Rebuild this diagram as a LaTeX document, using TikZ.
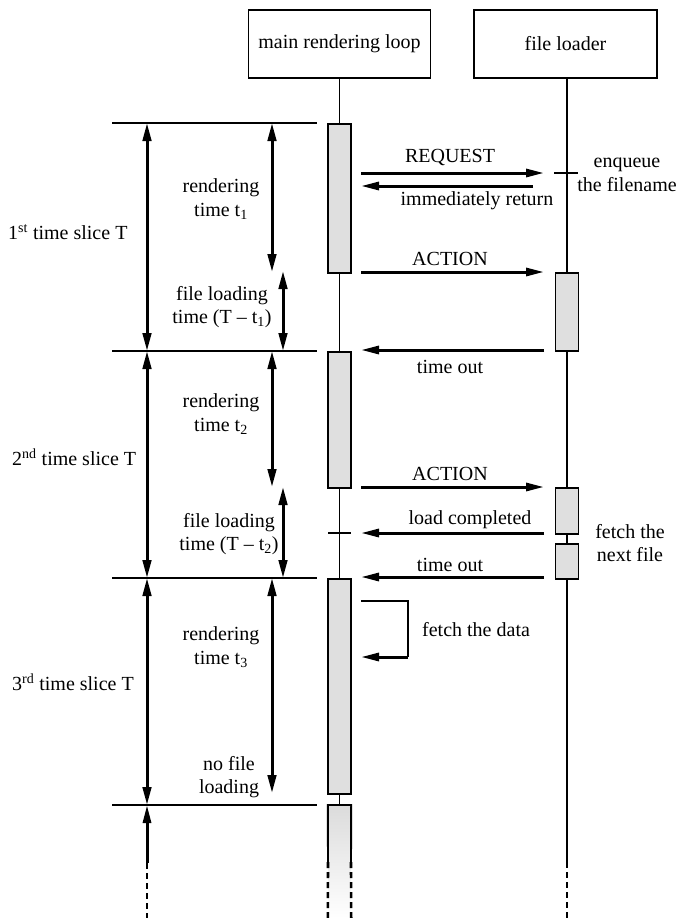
\documentclass[tikz,border=0pt]{standalone}
\usepackage{fontspec}
\setmainfont{Liberation Serif}
\usetikzlibrary{arrows.meta}
\tikzset{
  txt/.style={font=\fontsize{20}{23.5}\selectfont, inner sep=0pt, align=center},
  actor/.style={draw, line width=1.9pt, minimum width=#1, minimum height=68pt,
    inner sep=0pt, font=\fontsize{20}{24}\selectfont},
  life/.style={line width=1.9pt},
  bar/.style={draw, line width=1.9pt, fill=gray!25, minimum width=23pt,
    minimum height=#1, inner sep=0pt, anchor=north},
  msg/.style={line width=3pt, -{Triangle[length=18pt,width=8pt]}},
  span/.style={line width=3pt,
    {Triangle[length=18pt,width=8.5pt]}-{Triangle[length=18pt,width=8.5pt]}},
  slicerule/.style={line width=1.9pt},
  tail/.style={line width=2.6pt, dash pattern=on 6pt off 4pt},
}
\begin{document}
\begin{tikzpicture}[x=1pt,y=-1pt]
\useasboundingbox (0,0) rectangle (682,918);

% participants
\node[actor=182pt] (main) at (339.5,44) {main rendering loop};
\node[actor=183pt] (loader) at (565.5,44) {file loader};

% activation bars of the rendering loop
\node[bar=149pt] (b1) at (339.5,123) {};
\node[bar=136pt] (b2) at (339.5,351) {};
\node[bar=215pt] (b3) at (339.5,578) {};
\node[anchor=north, minimum width=23pt, minimum height=113pt, inner sep=0pt,
      top color=gray!28, bottom color=white] (b4) at (339.5,805) {};

% activation bars of the file loader
\node[bar=78pt] (f1) at (567,272) {};
\node[bar=46pt] (f2) at (567,487) {};
\node[bar=35pt] (f3) at (567,543) {};

% lifelines
\draw[life] (main.south) -- (b1.north);
\draw[life] (b1.south) -- (b2.north);
\draw[life] (b2.south) -- (b3.north);
\draw[life] (b3.south) -- (b4.north);
\draw[life] (loader.south -| f1.north) -- (f1.north);
\draw[life] (f1.south) -- (f2.north);
\draw[life] (f2.south) -- (f3.north);
\coordinate (fcut) at (567,862);
\coordinate (fend) at (567,918);
\draw[life] (f3.south) -- (fcut);
\draw[tail] (fcut) -- (fend);

% open-ended last bar
\coordinate (b4lc) at (328,862);
\coordinate (b4rc) at (351,862);
\draw[life] (b4lc) -- (b4.north west) -- (b4.north east) -- (b4rc);
\draw[tail] (b4lc) -- (b4.south west);
\draw[tail] (b4rc) -- (b4.south east);

% time slice boundaries
\foreach \y/\n in {123/r1, 351/r2, 578/r3, 805/r4} {
  \coordinate (\n l) at (112,\y);
  \coordinate (\n r) at (317,\y);
  \draw[slicerule] (\n l) -- (\n r);
}

% time slice spans
\coordinate (s1) at (147,123);
\coordinate (s2) at (147,351);
\coordinate (s3) at (147,578);
\coordinate (s4) at (147,805);
\coordinate (s5) at (147,863);
\coordinate (s6) at (147,918);
\draw[span] (s1) -- (s2);
\draw[span] (s2) -- (s3);
\draw[span] (s3) -- (s4);
\draw[msg] (s5) -- (s4);
\draw[tail] (s5) -- (s6);

% rendering and loading spans
\coordinate (ra1) at (272,123);
\coordinate (ra2) at (272,272);
\coordinate (la1) at (283,271);
\coordinate (la2) at (283,351);
\coordinate (ra3) at (272,351);
\coordinate (ra4) at (272,487);
\coordinate (la3) at (283,487);
\coordinate (la4) at (283,578);
\coordinate (ra5) at (272,578);
\coordinate (ra6) at (272,793);
\draw[span] (ra1) -- (ra2);
\draw[span] (la1) -- (la2);
\draw[span] (ra3) -- (ra4);
\draw[span] (la3) -- (la4);
\draw[span] (ra5) -- (ra6);

% slice labels
\node[txt, anchor=west] (t1) at (8,232) {1\textsuperscript{st} time slice T};
\node[txt, anchor=west] (t2) at (12,457) {2\textsuperscript{nd} time slice T};
\node[txt, anchor=west] (t3) at (12,682) {3\textsuperscript{rd} time slice T};

\node[txt] (rt1) at (221,199) {rendering\\time t\textsubscript{1}};
\node[txt] (lt1) at (222,307) {file loading\\time (T -- t\textsubscript{1})};
\node[txt] (rt2) at (221,414) {rendering\\time t\textsubscript{2}};
\node[txt] (lt2) at (229,534) {file loading\\time (T -- t\textsubscript{2})};
\node[txt] (rt3) at (221,647) {rendering\\time t\textsubscript{3}};
\node[txt] (nl3) at (229,777) {no file\\loading};

% messages
\coordinate (m1a) at (361,173); \coordinate (m1b) at (544,173);
\coordinate (m2a) at (533,186); \coordinate (m2b) at (361,186);
\coordinate (m3a) at (361,272); \coordinate (m3b) at (544,272);
\coordinate (m4a) at (544,350); \coordinate (m4b) at (361,350);
\coordinate (m5a) at (361,487); \coordinate (m5b) at (544,487);
\coordinate (m6a) at (544,533); \coordinate (m6b) at (361,533);
\coordinate (m7a) at (544,577); \coordinate (m7b) at (361,577);
\draw[msg] (m1a) -- (m1b);
\draw[msg] (m2a) -- (m2b);
\draw[msg] (m3a) -- (m3b);
\draw[msg] (m4a) -- (m4b);
\draw[msg] (m5a) -- (m5b);
\draw[msg] (m6a) -- (m6b);
\draw[msg] (m7a) -- (m7b);

\node[txt] (lreq) at (450,157) {REQUEST};
\node[txt] (lret) at (477,201) {immediately return};
\node[txt] (lact1) at (450,259) {ACTION};
\node[txt] (lto1) at (450,367) {time out};
\node[txt] (lact2) at (450,474) {ACTION};
\node[txt] (llc) at (470,520) {load completed};
\node[txt] (lto2) at (450,565) {time out};

% ticks on the lifelines
\coordinate (k1a) at (554,173); \coordinate (k1b) at (578,173);
\coordinate (k2a) at (328,533); \coordinate (k2b) at (351,533);
\draw[life] (k1a) -- (k1b);
\draw[life] (k2a) -- (k2b);

\node[txt] (enq) at (627,175) {enqueue\\the filename};
\node[txt] (fnf) at (630,543) {fetch the\\next file};

% self call
\coordinate (sc1) at (361,601);
\coordinate (sc2) at (408,601);
\coordinate (sc3) at (408,657);
\coordinate (sc4) at (361,657);
\draw[line width=2.2pt] (sc1) -- (sc2) -- (sc3);
\draw[msg] (sc3) -- (sc4);
\node[txt, anchor=west] (fd) at (422,630) {fetch the data};

\end{tikzpicture}
\end{document}
